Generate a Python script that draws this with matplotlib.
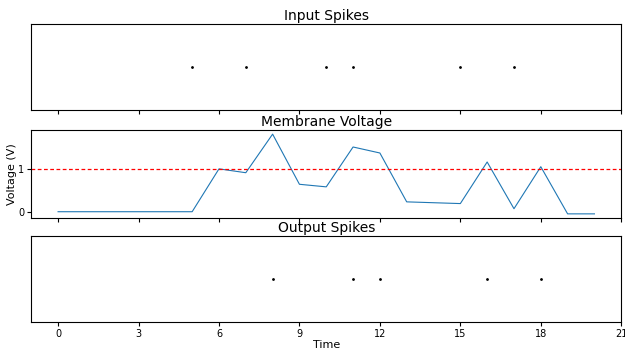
import matplotlib
matplotlib.use("Agg")
import matplotlib.pyplot as plt
import numpy as np

# data
time = list(range(21))
voltage = [0, 0, 0, 0, 0, 0, 1.0, 0.91, 1.81, 0.64, 0.58, 1.51, 1.37,
           0.23, 0.21, 0.19, 1.16, 0.07, 1.05, -0.05, -0.05]
threshold = 1.0
input_spikes = [5, 7, 10, 11, 15, 17]
output_spikes = [8, 11, 12, 16, 18]
xticks = [0, 3, 6, 9, 12, 15, 18, 21]

fig = plt.figure(figsize=(6.25, 3.48), dpi=100)
ax1 = fig.add_axes([0.05, 0.684, 0.944, 0.247])
ax2 = fig.add_axes([0.05, 0.374, 0.944, 0.252], sharex=ax1)
ax3 = fig.add_axes([0.05, 0.075, 0.944, 0.247], sharex=ax1)

ax1.plot(input_spikes, [0] * len(input_spikes), 'k.', ms=2)
ax1.set_title("Input Spikes", fontsize=10, pad=3)
ax1.set_yticks([])

ax2.plot(time, voltage, color='#1f77b4', lw=0.8)
ax2.axhline(threshold, color='red', ls=(0, (3, 2)), lw=0.9)
ax2.set_title("Membrane Voltage", fontsize=10, pad=3)
ax2.set_ylabel("Voltage (V)", fontsize=8, labelpad=1)
ax2.set_yticks([0, 1])

ax3.plot(output_spikes, [0] * len(output_spikes), 'k.', ms=2)
ax3.set_title("Output Spikes", fontsize=10, pad=3)
ax3.set_yticks([])
ax3.set_xlabel("Time", fontsize=8, labelpad=1)

ax1.set_xlim(-1, 21)
ax3.set_xticks(xticks)
for ax in (ax1, ax2, ax3):
    ax.tick_params(labelsize=7, length=3, pad=2)
ax1.tick_params(labelbottom=False)
ax2.tick_params(labelbottom=False)

plt.savefig("out.png", dpi=100)
